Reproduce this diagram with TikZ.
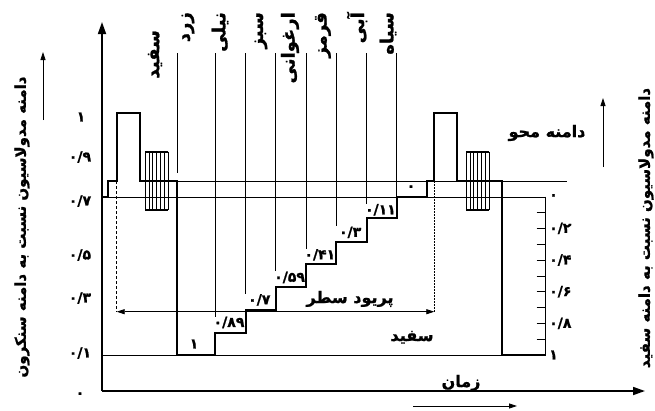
\documentclass[tikz,border=0pt]{standalone}
\usepackage{fontspec}
\newfontfamily\farsi[Script=Arabic,BoldFeatures={FakeBold=1.2}]{DejaVu Sans}
\TeXXeTstate=1
\usetikzlibrary{arrows.meta}
\tikzset{>=Triangle[]}
\tikzset{
  sig/.style={line width=1.7pt},
  fine/.style={line width=0.6pt},
  axis/.style={line width=1.7pt,-{Triangle[length=12pt,width=8pt]}},
  pointer/.style={line width=0.8pt,-{Triangle[length=8pt,width=5pt]}},
  span/.style={line width=0.8pt,{Triangle[length=8pt,width=5pt]}-{Triangle[length=8pt,width=5pt]}},
  num/.style={font=\farsi\bfseries\fontsize{14}{14}\selectfont,inner sep=0pt},
  word/.style={font=\farsi\bfseries\fontsize{16}{16}\selectfont,inner sep=0pt},
  colour/.style={font=\farsi\bfseries\fontsize{18}{18}\selectfont,inner sep=0pt,rotate=90,anchor=east},
  title/.style={font=\farsi\bfseries\fontsize{15}{15}\selectfont,inner sep=0pt,rotate=90},
}

\begin{document}
\begin{tikzpicture}[x=1pt,y=-1pt]
  \useasboundingbox (0,0) rectangle (655,410);

  \coordinate (o) at (102,391);
  \coordinate (ytop) at (102,22);
  \coordinate (xend) at (645,391);
  \draw[axis] (o) -- (ytop);
  \draw[axis] (o) -- (xend);

  % levels
  \draw[fine] (102,355) -- (501.7,355);
  \draw[fine] (102,197.3) -- (545.7,197.3);
  \draw[fine] (177.3,181) -- (567,181);

  % signal
  \draw[sig] (102,197.3) -| (108.3,181) -| (116.7,113.3) -| (140,181) -| (177.3,355)
    -| (215,333.3) -| (245.7,310) -| (276,287.3) -| (305.7,264) -| (336,241.7)
    -| (366.7,218.3) -| (396.7,197.3) -| (426.7,181) -| (434.3,113.3)
    -| (456.7,181) -| (501.7,355) -- (545.7,355);

  \foreach \bx in {145,466} {
    \foreach \k in {0,...,6}
      \draw[fine] (\bx+\k*3.88,151.7) -- (\bx+\k*3.88,210);
    \draw[sig] (\bx,151.7) -- (\bx+23.3,151.7) (\bx,210) -- (\bx+23.3,210);
  }

  % bars
  \coordinate (t0) at (177.3,53);
  \coordinate (t7) at (396.7,53);
  \draw[fine] (t0) -- (177.3,173);
  \draw[fine] (t7) -- (396.7,197.3);
  \foreach \i/\d in {1/۸۹,2/۷,3/۵۹,4/۴۱,5/۳,6/۱۱} {
    \pgfmathsetmacro\xl{215+(\i-1)*30.28}
    \pgfmathsetmacro\yt{355-\i*22.53}
    \coordinate (t\i) at (\xl,53);
    \node[num] (v\i) at (\xl+14,\yt-10) {۰/\d};
    \draw[fine] (t\i) -- (t\i |- v\i.north);
  }
  \node[num] (v0) at (194,344) {۱};
  \node[num] (v7) at (411,188) {۰};

  \foreach \n/\x/\y/\w in {1/155/30/سفید,2/188/12/زرد,3/220/12/نیلی,4/261/12/سبز,
      5/290/12/ارغوانی,6/323/12/قرمز,7/357/12/آبی,8/388/12/سیاه}
    \node[colour] (c\n) at (\x,\y) {\beginR\w\endR};

  % line period
  \coordinate (pl) at (116.7,311.7);
  \coordinate (pr) at (434.3,311.7);
  \draw[fine,dash pattern=on 3pt off 2pt] (116.7,181) -- (pl);
  \draw[fine,dash pattern=on 1.5pt off 1.5pt] (434.3,181) -- (pr);
  \draw[span] (pl) -- (pr);
  \node[word,anchor=base] (period) at (350,303) {\beginR پریود سطر\endR};
  \node[word,anchor=base] (white) at (412,341) {\beginR سفید\endR};
  \node[word,anchor=base] (time) at (461,387) {\beginR زمان\endR};
  \node[word] (blank) at (547,133) {\beginR دامنه محو\endR};

  % scales
  \foreach \i/\y/\d in {1/157/۹,2/201/۷,3/255/۵,4/298/۳,5/353/۱}
    \node[num] (l\i) at (80,\y) {۰/\d};
  \node[num] (l0) at (81,117) {۱};
  \node[num] (l6) at (80,395) {۰};

  \coordinate (s0) at (545.7,196.7);
  \coordinate (s1) at (545.7,355);
  \draw[fine] (s0) -- (s1);
  \foreach \k in {1,...,9}
    \draw[fine] (536.7,196.7+\k*15.83) -- (545.7,196.7+\k*15.83);
  \foreach \k/\d in {2/۲,4/۴,6/۶,8/۸}
    \node[num,anchor=west] (r\k) at (549,196.7+\k*15.83) {۰/\d};
  \node[num,anchor=west] (r0) at (549,196.7) {۰};
  \node[num,anchor=west] (r10) at (549,355) {۱};

  % titles
  \node[title] (ltitle) at (22,227) {\beginR دامنه مدولاسیون نسبت به دامنه سنکرون\endR};
  \node[title] (rtitle) at (646,228) {\beginR دامنه مدولاسیون نسبت به دامنه سفید\endR};
  \coordinate (la0) at (43,120);
  \coordinate (la1) at (43,52);
  \coordinate (ra0) at (603,167);
  \coordinate (ra1) at (603,98);
  \coordinate (ba0) at (413,406);
  \coordinate (ba1) at (517,406);
  \draw[pointer] (la0) -- (la1);
  \draw[pointer] (ra0) -- (ra1);
  \draw[pointer] (ba0) -- (ba1);
\end{tikzpicture}
\end{document}
